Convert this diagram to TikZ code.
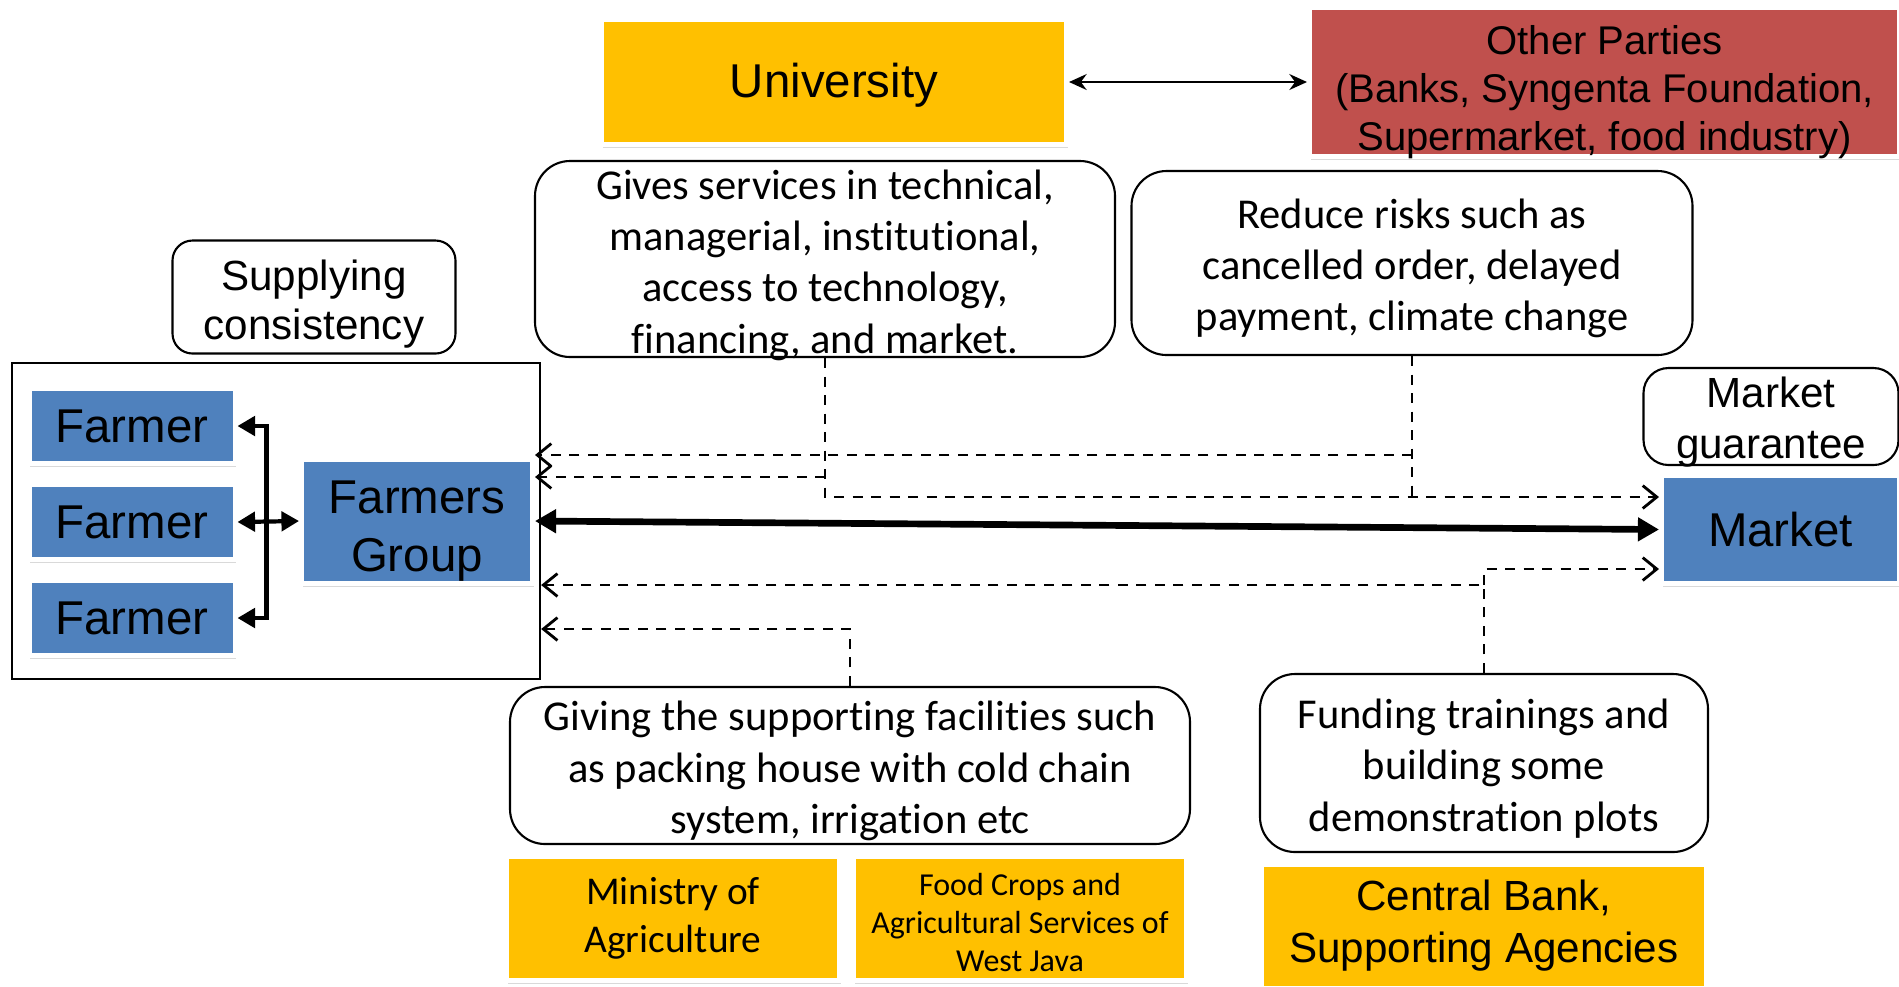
\documentclass[tikz,border=0pt]{standalone}
\usepackage{fontspec}
\setmainfont{Liberation Sans}
\newfontfamily\calibri[Ligatures=NoCommon]{Carlito}
\usetikzlibrary{arrows.meta,shadows}

\definecolor{gold}{HTML}{FFC000}
\definecolor{steel}{HTML}{4F81BD}
\definecolor{brick}{HTML}{C0504D}

\tikzset{
  tile/.style={draw=white, line width=0.05cm, inner sep=0pt, align=center,
    drop shadow={shadow xshift=0.01cm, shadow yshift=-0.035cm, opacity=0.3}},
  goldbox/.style={tile, fill=gold},
  bluebox/.style={tile, fill=steel, font=\fontsize{13.5}{16.2}\selectfont},
  note/.style={draw, line width=0.6pt, rounded corners=0.35cm},
  notetext/.style={inner sep=0pt, align=center, font=\calibri\fontsize{12.1}{14.6}\selectfont},
  plaintext/.style={inner sep=0pt, align=center},
  dashlink/.style={line width=0.8pt, dash pattern=on 0.1cm off 0.085cm,
    >={Straight Barb[length=4pt,width=6.5pt]}},
  boldlink/.style={line width=1.9pt, {Triangle[length=6pt,width=6.5pt]}-{Triangle[length=6pt,width=6.5pt]}},
  bracket/.style={line width=1.2pt, {Triangle[length=5pt,width=5.5pt]}-{Triangle[length=5pt,width=5.5pt]}},
}

\begin{document}
\begin{tikzpicture}
    \useasboundingbox (0,0) rectangle (18.99,-9.86);
    \clip (0,0) rectangle (18.99,-9.86);

    % University and other parties
    \node[goldbox, minimum width=4.65cm, minimum height=1.25cm] (univ) at (8.34,-0.82) {};
    \node[plaintext, font=\fontsize{13.5}{16.2}\selectfont] (univ-t) at ([yshift=-0.035cm]univ.center) {University};
    \node[tile, fill=brick, minimum width=5.9cm, minimum height=1.49cm] (others) at (16.045,-0.82) {};
    \node[plaintext, font=\fontsize{11.4}{13.6}\selectfont] (others-t) at ([yshift=-0.1cm]others.center) {Other Parties\\(Banks, Syngenta Foundation,\\Supermarket, food industry)};
    \draw[line width=0.8pt, {Stealth[length=5pt,width=4.5pt]}-{Stealth[length=5pt,width=4.5pt]}] (univ.east) -- (others.west);

    % Notes at the top
    \node[note, minimum width=5.8cm, minimum height=1.96cm] (gives) at (8.25,-2.59) {};
    \node[notetext] (gives-t) at ([yshift=-0.06cm]gives.center) {Gives services in technical,\\managerial, institutional,\\access to technology,\\financing, and market.};
    \node[note, minimum width=5.61cm, minimum height=1.84cm] (risk) at (14.12,-2.63) {};
    \node[notetext] (risk-t) at ([yshift=-0.055cm]risk.center) {Reduce risks such as\\cancelled order, delayed\\payment, climate change};
    \node[note, rounded corners=0.2cm, minimum width=2.83cm, minimum height=1.13cm] (consist) at (3.14,-2.97) {};
    \node[plaintext, font=\fontsize{12}{14.1}\selectfont] (consist-t) at ([yshift=-0.07cm]consist.center) {Supplying\\consistency};

    % Farmers
    \node[draw, line width=0.6pt, minimum width=5.28cm, minimum height=3.16cm] (cluster) at (2.761,-5.2135) {};
    \node[bluebox, minimum width=2.06cm, minimum height=0.75cm] (f1) at (1.32,-4.26) {Farmer};
    \node[bluebox, minimum width=2.06cm, minimum height=0.75cm] (f2) at (1.32,-5.22) {Farmer};
    \node[bluebox, minimum width=2.06cm, minimum height=0.75cm] (f3) at (1.32,-6.18) {Farmer};
    \node[bluebox, minimum width=2.31cm, minimum height=1.24cm] (grp) at (4.17,-5.21) {};
    \node[plaintext, font=\fontsize{13.5}{16.6}\selectfont] (grp-t) at ([yshift=-0.1cm]grp.center) {Farmers\\Group};
    \draw[bracket] (f1.east) -- ++(0.29,0) |- (f3.east);
    \draw[bracket] (f2.east) -- (grp.west);

    % Market
    \node[note, rounded corners=0.25cm, minimum width=2.55cm, minimum height=0.97cm] (guar) at (17.71,-4.165) {};
    \node[plaintext, font=\fontsize{12}{14.5}\selectfont] (guar-t) at ([yshift=-0.06cm]guar.center) {Market\\guarantee};
    \node[bluebox, minimum width=2.38cm, minimum height=1.08cm] (market) at (17.805,-5.295) {Market};
    \draw[boldlink] (grp.east) -- (market.west);

    % Notes at the bottom
    \node[note, minimum width=6.8cm, minimum height=1.57cm] (giving) at (8.5,-7.655) {};
    \node[notetext] (giving-t) at ([yshift=-0.055cm]giving.center) {Giving the supporting facilities such\\as packing house with cold chain\\system, irrigation etc};
    \node[note, minimum width=4.48cm, minimum height=1.78cm] (fund) at (14.84,-7.63) {};
    \node[notetext] (fund-t) at ([yshift=-0.055cm]fund.center) {Funding trainings and\\building some\\demonstration plots};

    % Agencies
    \node[goldbox, minimum width=3.33cm, minimum height=1.24cm, font=\calibri\fontsize{11.2}{13.7}\selectfont] (ministry) at (6.73,-9.185) {Ministry of\\Agriculture};
    \node[goldbox, minimum width=3.33cm, minimum height=1.24cm] (dinas) at (10.2,-9.185) {};
    \node[plaintext, font=\calibri\fontsize{9.1}{10.8}\selectfont] (dinas-t) at ([yshift=-0.04cm]dinas.center) {Food Crops and\\Agricultural Services of\\West Java};
    \node[goldbox, minimum width=4.45cm, minimum height=1.24cm, font=\fontsize{12}{14.8}\selectfont] (bank) at (14.84,-9.26) {Central Bank,\\Supporting Agencies};

    % Dashed links
    \coordinate (gdn) at (8.25,-4.97);
    \coordinate (gbr) at (8.25,-4.77);
    \coordinate (rdn) at (14.12,-4.97);
    \coordinate (rbr) at (14.12,-4.55);
    \coordinate (fdn) at (14.84,-5.85);
    \coordinate (fup) at (14.84,-5.69);
    \coordinate (sdn) at (8.5,-6.29);
    \draw[dashlink, ->] (gives.south) -- (gdn) -- (market.west |- gdn);
    \draw[dashlink, ->] (gbr) -- (grp.east |- gbr);
    \draw[dashlink] (risk.south) -- (rdn);
    \draw[dashlink, ->] (rbr) -- (grp.east |- rbr);
    \draw[dashlink, ->] (fund.north) -- (fdn) -- (cluster.east |- fdn);
    \draw[dashlink, ->] (fdn) -- (fup) -- (market.west |- fup);
    \draw[dashlink, ->] (giving.north) -- (sdn) -- (cluster.east |- sdn);
\end{tikzpicture}
\end{document}
